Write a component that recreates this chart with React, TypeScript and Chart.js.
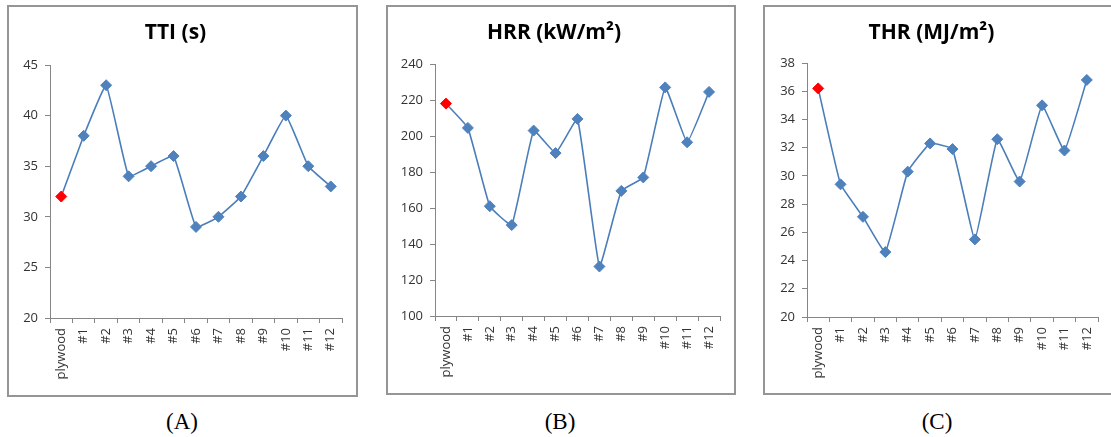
import React, { useEffect, useRef } from "react";
import { Chart, registerables } from "chart.js";

Chart.register(...registerables);

const categories = ["plywood", "#1", "#2", "#3", "#4", "#5", "#6", "#7", "#8", "#9", "#10", "#11", "#12"];
const ttiValues = [32, 38, 43, 34, 35, 36, 29, 30, 32, 36, 40, 35, 33];
const hrrValues = [218, 204.5, 161, 150.5, 203, 190.5, 209.5, 127.5, 169.5, 177, 227, 196.5, 224.5];
const thrValues = [36.2, 29.4, 27.1, 24.6, 30.3, 32.3, 31.9, 25.5, 32.6, 29.6, 35, 31.8, 36.8];
const ttiAxis = [20, 45, 5];
const hrrAxis = [100, 240, 20];
const thrAxis = [20, 38, 2];
const titles = ["TTI (s)", "HRR (kW/m²)", "THR (MJ/m²)"];
const captions = ["(A)", "(B)", "(C)"];

const BW = 2;
const FONT = "'Open Sans', 'DejaVu Sans', sans-serif";
const AXIS_COLOR = "#868686";

type Box = { left: number; top: number; width: number; height: number };
type Plot = { left: number; top: number; right: number; bottom: number };

function Panel(props: { title: string; values: number[]; axis: number[]; box: Box; plot: Plot }) {
  const ref = useRef<HTMLCanvasElement | null>(null);
  const { title, values, axis, box, plot } = props;
  const cw = box.width - 2 * BW;
  const ch = box.height - 2 * BW;
  const ox = box.left + BW;
  const oy = box.top + BW;
  const yw = plot.left - ox;
  const rp = cw - (plot.right - ox);
  const xh = ch - (plot.bottom - oy);
  const titleTotal = plot.top - oy;
  const titleLine = 21 * 1.2;
  const pTop = 33 - oy - titleLine / 2;
  const pBottom = titleTotal - pTop - titleLine;

  useEffect(() => {
    if (!ref.current) return;
    const colors = values.map((_, i) => (i === 0 ? "#ff0000" : "#4f81bd"));
    const chart = new Chart(ref.current, {
      type: "line",
      data: {
        labels: categories,
        datasets: [
          {
            data: values,
            borderColor: "#4a7ebb",
            borderWidth: 1.6,
            tension: 0.1,
            fill: false,
            pointStyle: "rectRot",
            pointRadius: 5.5,
            pointHoverRadius: 5.5,
            pointBackgroundColor: colors,
            pointBorderColor: colors,
            pointBorderWidth: 1,
          },
        ],
      },
      options: {
        responsive: false,
        animation: false,
        devicePixelRatio: 1,
        events: [],
        layout: { padding: { left: 0, right: rp, top: 0, bottom: 0 } },
        plugins: {
          legend: { display: false },
          tooltip: { enabled: false },
          title: {
            display: true,
            text: title,
            color: "#000000",
            font: { family: FONT, size: 21, weight: "bold", lineHeight: 1.2 },
            padding: { top: pTop, bottom: pBottom },
          },
        },
        scales: {
          x: {
            type: "category",
            offset: true,
            grid: {
              display: true,
              drawOnChartArea: false,
              drawTicks: true,
              tickLength: 5,
              color: AXIS_COLOR,
              offset: true,
            },
            border: { display: true, color: AXIS_COLOR, width: 1 },
            ticks: {
              autoSkip: false,
              minRotation: 90,
              maxRotation: 90,
              padding: 5,
              color: "#333333",
              font: { family: FONT, size: 13 },
            },
            afterFit: (s: any) => {
              s.height = xh;
            },
          },
          y: {
            min: axis[0],
            max: axis[1],
            grid: {
              display: true,
              drawOnChartArea: false,
              drawTicks: true,
              tickLength: 5,
              color: AXIS_COLOR,
            },
            border: { display: true, color: AXIS_COLOR, width: 1 },
            ticks: {
              stepSize: axis[2],
              padding: 7,
              color: "#333333",
              font: { family: FONT, size: 13 },
            },
            afterFit: (s: any) => {
              s.width = yw;
            },
          },
        },
      },
    } as any);
    return () => chart.destroy();
  }, []);

  return (
    <div
      style={{
        position: "absolute",
        left: box.left,
        top: box.top,
        width: box.width,
        height: box.height,
        boxSizing: "border-box",
        border: `${BW}px solid #959595`,
        background: "#ffffff",
        overflow: "hidden",
      }}
    >
      <canvas ref={ref} width={cw} height={ch} style={{ display: "block", width: cw, height: ch }} />
    </div>
  );
}

function Caption(props: { text: string; x: number }) {
  return (
    <div
      style={{
        position: "absolute",
        left: props.x,
        top: 421,
        transform: "translate(-50%, -50%)",
        fontFamily: "'Liberation Serif', 'Times New Roman', serif",
        fontSize: 23,
        lineHeight: 1,
        color: "#000",
        whiteSpace: "nowrap",
      }}
    >
      {props.text}
    </div>
  );
}

export default function App() {
  return (
    <div style={{ position: "fixed", left: 0, top: 0, width: 1111, height: 437, background: "#fff", overflow: "hidden" }}>
      <Panel
        title={titles[0]}
        values={ttiValues}
        axis={ttiAxis}
        box={{ left: 7, top: 5, width: 351, height: 392 }}
        plot={{ left: 50, top: 65, right: 342, bottom: 318 }}
      />
      <Panel
        title={titles[1]}
        values={hrrValues}
        axis={hrrAxis}
        box={{ left: 386, top: 5, width: 350, height: 390 }}
        plot={{ left: 435, top: 64, right: 720, bottom: 316 }}
      />
      <Panel
        title={titles[2]}
        values={thrValues}
        axis={thrAxis}
        box={{ left: 763, top: 5, width: 360, height: 390 }}
        plot={{ left: 807, top: 63, right: 1098, bottom: 317 }}
      />
      <Caption text={captions[0]} x={182} />
      <Caption text={captions[1]} x={560} />
      <Caption text={captions[2]} x={937} />
    </div>
  );
}
